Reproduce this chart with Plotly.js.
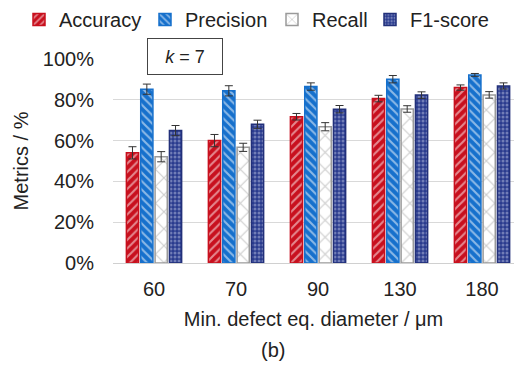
<!DOCTYPE html>
<html><head><meta charset="utf-8">
<script src="https://cdn.plot.ly/plotly-3.0.1.min.js"></script>
<style>html,body{margin:0;padding:0;background:#fff}</style>
</head><body>
<div id="chart" style="width:514px;height:374px"></div>
<script>
const categories = ['60', '70', '90', '130', '180'];
const accuracy = [54, 60, 71.7, 80.6, 86];
const accuracyErr = [3, 3, 1.6, 1.6, 1.3];
const precision = [85.2, 84.4, 86.5, 90.1, 92.2];
const precisionErr = [2.5, 2.5, 1.8, 1.8, 0.7];
const recall = [52.1, 56.7, 66.8, 75.5, 82.4];
const recallErr = [2.5, 2, 2, 1.6, 1.6];
const f1 = [64.9, 68, 75.4, 82.3, 86.8];
const f1Err = [2.5, 2, 1.8, 1.6, 1.5];
const yTicks = [0, 20, 40, 60, 80, 100];

const font = {family: 'Liberation Sans, Arial, sans-serif', size: 20, color: '#222'};
function err(a) { return {type: 'data', array: a, visible: true, color: '#333', thickness: 1, width: 4}; }

const traces = [
  {name: 'Accuracy', legend: 'legend', type: 'bar', x: categories, y: accuracy, error_y: err(accuracyErr),
   marker: {color: '#C8101E', line: {color: '#C8101E', width: 1.5},
            pattern: {shape: '/', fillmode: 'overlay', fgcolor: '#ffffff', size: 6, solidity: 0.35}}},
  {name: 'Precision', legend: 'legend2', type: 'bar', x: categories, y: precision, error_y: err(precisionErr),
   marker: {color: '#1670CC', line: {color: '#1670CC', width: 1.5},
            pattern: {shape: '\\', fillmode: 'overlay', fgcolor: '#ffffff', size: 6, solidity: 0.35}}},
  {name: 'Recall', legend: 'legend3', type: 'bar', x: categories, y: recall, error_y: err(recallErr),
   marker: {color: '#ffffff', line: {color: '#9a9a9a', width: 1.5},
            pattern: {shape: 'x', fillmode: 'overlay', fgcolor: '#9a9a9a', size: 12, solidity: 0.18}}},
  {name: 'F1-score', legend: 'legend4', type: 'bar', x: categories, y: f1, error_y: err(f1Err),
   marker: {color: '#2A3B8E', line: {color: '#22307a', width: 1.5},
            pattern: {shape: '.', fillmode: 'overlay', fgcolor: '#b8c0e0', size: 4, solidity: 0.45}}}
];

function leg(textX) {
  return {orientation: 'h', x: (textX - 38) / 514, xref: 'container', y: 1, yref: 'container',
          yanchor: 'top', xanchor: 'left', font: font, itemwidth: 30, bgcolor: 'rgba(0,0,0,0)'};
}

const layout = {
  width: 514, height: 374,
  margin: {l: 113, r: 0, t: 59, b: 111},
  paper_bgcolor: '#fff', plot_bgcolor: '#fff',
  font: font,
  barmode: 'group', bargap: 0.3, bargroupgap: 0.15,
  showlegend: true,
  legend: leg(57), legend2: leg(183), legend3: leg(310), legend4: leg(408),
  xaxis: {type: 'category', range: [-0.5, 4.39], showgrid: false, showline: true,
          linecolor: '#d0d0d0', linewidth: 1, ticks: '', tickfont: font, ticklabelstandoff: 8,
          title: {text: 'Min. defect eq. diameter / μm', font: font, standoff: 12}},
  yaxis: {range: [0, 100], tickvals: yTicks, ticktext: yTicks.map(v => v + '%'),
          showgrid: true, gridcolor: '#d9d9d9', gridwidth: 1, zeroline: false,
          showline: false, ticks: '', ticklabelstandoff: 18, tickfont: font,
          title: {text: 'Metrics / %', font: font, standoff: 8}},
  annotations: [
    {text: '<i>k</i> = 7', xref: 'paper', yref: 'paper', x: (185 - 113) / 401, y: (263 - 56) / 204,
     xanchor: 'center', yanchor: 'middle', showarrow: false, font: {family: font.family, size: 18, color: '#222'},
     bgcolor: '#fff', bordercolor: '#444', borderwidth: 1, width: 72, height: 33, borderpad: 1},
    {text: '(b)', xref: 'paper', yref: 'paper', x: (273 - 113) / 401, y: (263 - 350) / 204,
     xanchor: 'center', yanchor: 'middle', showarrow: false, font: font}
  ]
};
Plotly.newPlot('chart', traces, layout, {displayModeBar: false, staticPlot: true});
</script>
</body></html>
